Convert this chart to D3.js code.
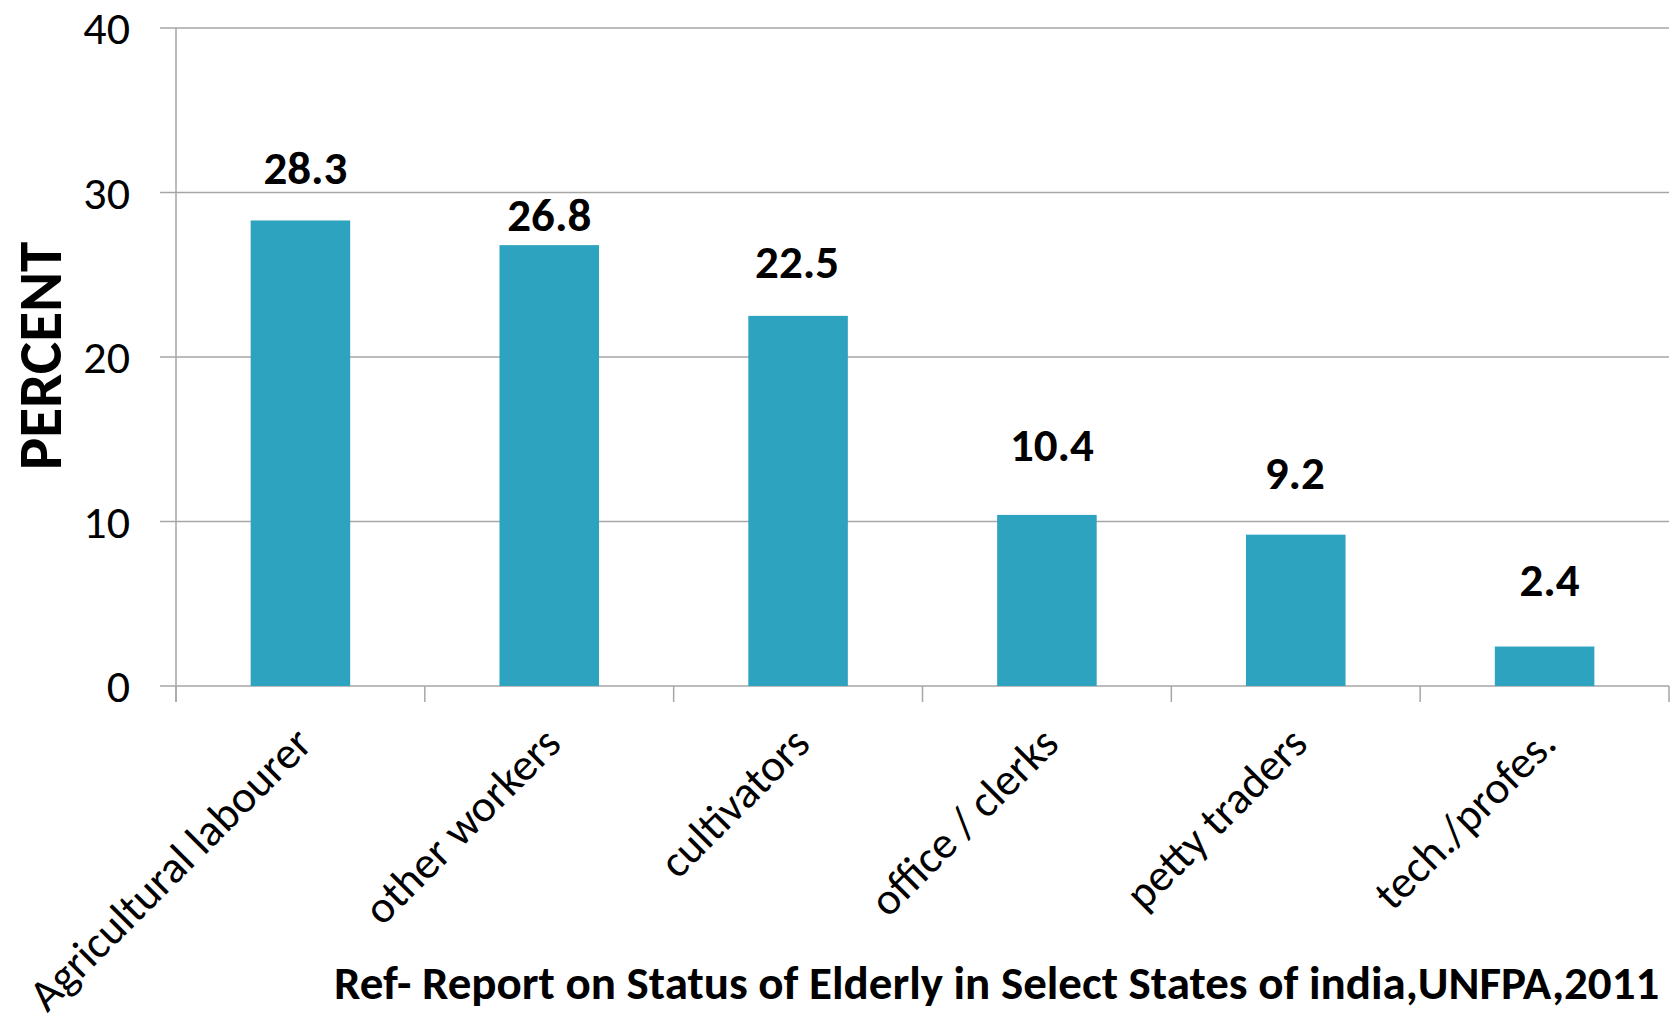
<!DOCTYPE html>
<html>
<head>
<meta charset="utf-8">
<script src="https://cdn.jsdelivr.net/npm/d3@7"></script>
<style>
  html, body { margin: 0; padding: 0; background: #ffffff; overflow: hidden; }
  svg { display: block; }
  text { font-family: Carlito, Lato, "Open Sans", sans-serif; fill: #000; }
</style>
</head>
<body>
<svg id="chart" width="1675" height="1034"></svg>
<script>
// Occupation of elderly workers, percent
const categories = [
  "Agricultural labourer",
  "other workers",
  "cultivators",
  "office / clerks",
  "petty traders",
  "tech./profes."
];
const values = [28.3, 26.8, 22.5, 10.4, 9.2, 2.4];
const yTicks = [0, 10, 20, 30, 40];
const yTitle = "PERCENT";
const sourceNote = "Ref- Report on Status of Elderly in Select States of india,UNFPA,2011";

// ---- layout ----
const plot = { left: 176, right: 1669, top: 28, bottom: 686 };
const tickLen = 16;
const barColor = "#2da3bf";
const gridColor = "#a6a6a6";
// hand-placed value label offsets: [dx, gap above bar top]
const labelPlacement = [[5, 36], [0, 14], [-1, 38], [5, 54], [-1, 46], [5, 51]];

const svg = d3.select("#chart");

const x = d3.scaleBand()
  .domain(categories)
  .range([plot.left, plot.right])
  .paddingInner(0.6)
  .paddingOuter(0.3);

const y = d3.scaleLinear()
  .domain([0, 40])
  .range([plot.bottom, plot.top]);

// horizontal gridlines (with short outside ticks)
svg.append("g")
  .selectAll("line")
  .data(yTicks)
  .join("line")
  .attr("x1", plot.left - tickLen)
  .attr("x2", plot.right)
  .attr("y1", d => y(d))
  .attr("y2", d => y(d))
  .attr("stroke", gridColor)
  .attr("stroke-width", 1.5);

// y-axis line
svg.append("line")
  .attr("x1", plot.left).attr("x2", plot.left)
  .attr("y1", y(40)).attr("y2", plot.bottom + tickLen)
  .attr("stroke", gridColor)
  .attr("stroke-width", 1.5);

// category boundary ticks on x axis
const boundaries = d3.range(categories.length + 1)
  .map(i => plot.left + i * x.step());
svg.append("g")
  .selectAll("line")
  .data(boundaries)
  .join("line")
  .attr("x1", d => d).attr("x2", d => d)
  .attr("y1", plot.bottom).attr("y2", plot.bottom + tickLen)
  .attr("stroke", gridColor)
  .attr("stroke-width", 1.5);

// y tick labels
svg.append("g")
  .selectAll("text")
  .data(yTicks)
  .join("text")
  .attr("x", 130)
  .attr("y", d => y(d) + 16)
  .attr("text-anchor", "end")
  .attr("font-size", 46)
  .text(d => d);

// bars
svg.append("g")
  .selectAll("rect")
  .data(values)
  .join("rect")
  .attr("x", (d, i) => x(categories[i]))
  .attr("width", x.bandwidth())
  .attr("y", d => y(d))
  .attr("height", d => y(0) - y(d))
  .attr("fill", barColor);

// value labels
svg.append("g")
  .selectAll("text")
  .data(values)
  .join("text")
  .attr("x", (d, i) => x(categories[i]) + x.bandwidth() / 2 + labelPlacement[i][0])
  .attr("y", (d, i) => y(d) - labelPlacement[i][1])
  .attr("text-anchor", "middle")
  .attr("font-size", 47)
  .attr("font-weight", "bold")
  .text(d => d.toFixed(1));

// rotated category labels
svg.append("g")
  .selectAll("text")
  .data(categories)
  .join("text")
  .attr("text-anchor", "end")
  .attr("font-size", 45)
  .attr("transform", d => {
    const cx = x(d) + x.bandwidth() / 2 + 14;
    const cy = plot.bottom + 60;
    return `translate(${cx},${cy}) rotate(-45)`;
  })
  .text(d => d);

// y-axis title
svg.append("text")
  .attr("transform", "translate(61,356) rotate(-90)")
  .attr("text-anchor", "middle")
  .attr("font-size", 61)
  .attr("font-weight", "bold")
  .text(yTitle);

// source note
svg.append("text")
  .attr("x", 334)
  .attr("y", 999)
  .attr("font-size", 47)
  .attr("font-weight", "bold")
  .text(sourceNote);
</script>
</body>
</html>
